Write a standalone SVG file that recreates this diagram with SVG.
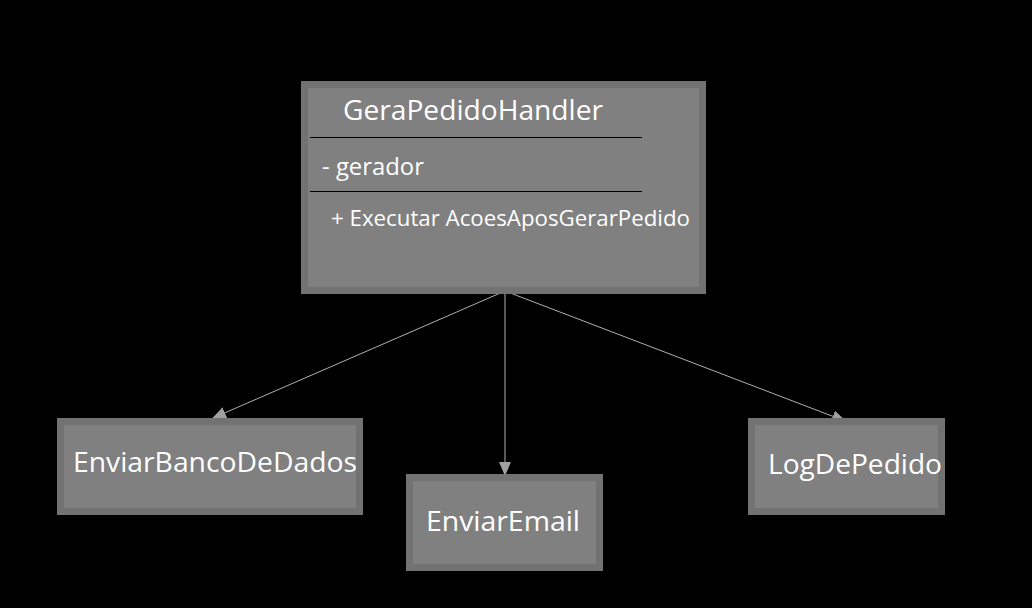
<svg xmlns="http://www.w3.org/2000/svg" width="1032" height="608" viewBox="0 0 1032 608">
<style>
.outer{fill:#727272}
.inner{fill:#808080}
.t{font-family:"Open Sans","Liberation Sans",sans-serif;fill:#ffffff}
.sep{stroke:#000;stroke-width:1}
.conn{stroke:#b0b0b0;stroke-width:1;fill:none;marker-end:url(#ah)}
</style>
<defs>
<marker id="ah" markerWidth="14" markerHeight="12" refX="13" refY="6" orient="auto" markerUnits="userSpaceOnUse">
<path d="M0,0 L14,6 L0,12 Z" fill="#a0a0a0"/>
</marker>
</defs>
<rect width="1032" height="608" fill="#000"/>
<g id="connectors">
<line class="conn" x1="505" y1="291" x2="213" y2="418"/>
<line class="conn" x1="505" y1="291" x2="505" y2="475"/>
<line class="conn" x1="505" y1="291" x2="845" y2="421"/>
</g>
<g id="GeraPedidoHandler">
<rect class="outer" x="301" y="81" width="405" height="213"/>
<rect class="inner" x="308" y="88" width="391" height="199"/>
<text class="t" x="343" y="120" font-size="27" textLength="260" lengthAdjust="spacingAndGlyphs">GeraPedidoHandler</text>
<line class="sep" x1="310" y1="137.5" x2="642" y2="137.5"/>
<text class="t" x="322" y="175" font-size="23" textLength="102" lengthAdjust="spacingAndGlyphs">- gerador</text>
<line class="sep" x1="310" y1="191.5" x2="642" y2="191.5"/>
<text class="t" x="331" y="226" font-size="21" textLength="359" lengthAdjust="spacingAndGlyphs">+ Executar AcoesAposGerarPedido</text>
</g>
<g id="EnviarBancoDeDados">
<rect class="outer" x="57" y="418" width="306" height="97"/>
<rect class="inner" x="64" y="425" width="292" height="83"/>
<text class="t" x="73" y="472" font-size="27" textLength="284" lengthAdjust="spacingAndGlyphs">EnviarBancoDeDados</text>
</g>
<g id="EnviarEmail">
<rect class="outer" x="406" y="474" width="197" height="97"/>
<rect class="inner" x="413" y="481" width="183" height="83"/>
<text class="t" x="426" y="531" font-size="27" textLength="154" lengthAdjust="spacingAndGlyphs">EnviarEmail</text>
</g>
<g id="LogDePedido">
<rect class="outer" x="748" y="418" width="197" height="97"/>
<rect class="inner" x="755" y="425" width="183" height="83"/>
<text class="t" x="768" y="474" font-size="27" textLength="174" lengthAdjust="spacingAndGlyphs">LogDePedido</text>
</g>
</svg>
